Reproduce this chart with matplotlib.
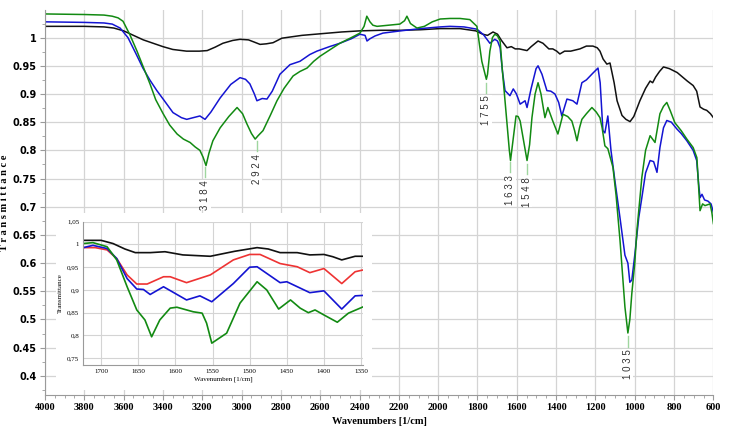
import matplotlib
matplotlib.use('Agg')
import matplotlib.pyplot as plt
from matplotlib.patches import Rectangle
from matplotlib.ticker import MultipleLocator
import numpy as np

# ---------------- data (main spectrum) ----------------
black_pts = [(4000, 1.02), (3800, 1.02), (3700, 1.019), (3650, 1.017), (3600, 1.012), (3550, 1.004),
             (3500, 0.996), (3450, 0.99), (3400, 0.984), (3350, 0.979), (3280, 0.976), (3215, 0.976),
             (3175, 0.977), (3135, 0.983), (3095, 0.99), (3045, 0.995), (3008, 0.997), (2965, 0.996),
             (2935, 0.992), (2906, 0.988), (2874, 0.989), (2840, 0.991), (2795, 0.999), (2693, 1.004),
             (2593, 1.007), (2492, 1.01), (2398, 1.012), (2291, 1.013), (2191, 1.013), (2090, 1.014),
             (1990, 1.016), (1889, 1.016), (1809, 1.012), (1773, 1.006), (1749, 1.004), (1721, 1.01),
             (1698, 1.006), (1678, 0.995), (1650, 0.982), (1628, 0.984), (1608, 0.98), (1588, 0.98),
             (1548, 0.977), (1527, 0.984), (1492, 0.994), (1467, 0.99), (1437, 0.98), (1417, 0.98),
             (1397, 0.976), (1381, 0.971), (1357, 0.976), (1326, 0.976), (1279, 0.98), (1246, 0.985),
             (1213, 0.985), (1191, 0.982), (1177, 0.976), (1161, 0.962), (1142, 0.953), (1126, 0.955),
             (1105, 0.92), (1090, 0.888), (1065, 0.862), (1045, 0.855), (1024, 0.851), (1005, 0.86),
             (985, 0.878), (974, 0.888), (945, 0.91), (922, 0.923), (909, 0.92), (894, 0.93),
             (874, 0.94), (854, 0.948), (824, 0.945), (784, 0.938), (733, 0.923), (703, 0.915),
             (685, 0.905), (668, 0.877), (650, 0.873), (634, 0.871), (615, 0.865), (600, 0.858)]

blue_pts = [(4000, 1.028), (3800, 1.027), (3700, 1.026), (3658, 1.024), (3618, 1.017), (3578, 1.0),
            (3538, 0.972), (3502, 0.946), (3467, 0.925), (3431, 0.906), (3397, 0.89), (3349, 0.867),
            (3306, 0.858), (3279, 0.855), (3246, 0.858), (3212, 0.861), (3186, 0.855), (3156, 0.868),
            (3109, 0.893), (3055, 0.917), (3008, 0.929), (2980, 0.926), (2958, 0.918), (2935, 0.9),
            (2922, 0.888), (2895, 0.892), (2871, 0.891), (2844, 0.905), (2805, 0.935), (2754, 0.952),
            (2703, 0.958), (2653, 0.97), (2617, 0.976), (2553, 0.984), (2500, 0.99), (2442, 0.998),
            (2398, 1.006), (2372, 1.004), (2362, 0.994), (2347, 0.998), (2321, 1.003), (2281, 1.008),
            (2191, 1.012), (2090, 1.016), (1990, 1.019), (1940, 1.02), (1869, 1.019), (1803, 1.015),
            (1769, 1.005), (1737, 0.99), (1712, 0.997), (1698, 0.994), (1685, 0.982), (1673, 0.94),
            (1660, 0.906), (1635, 0.897), (1618, 0.909), (1602, 0.9), (1583, 0.882), (1558, 0.888),
            (1548, 0.876), (1527, 0.91), (1502, 0.945), (1492, 0.95), (1472, 0.935), (1447, 0.906),
            (1427, 0.905), (1406, 0.9), (1387, 0.885), (1371, 0.861), (1345, 0.891), (1315, 0.888),
            (1294, 0.882), (1269, 0.92), (1246, 0.925), (1213, 0.937), (1187, 0.946), (1176, 0.92),
            (1162, 0.835), (1152, 0.831), (1137, 0.861), (1121, 0.8), (1101, 0.746), (1075, 0.68),
            (1050, 0.614), (1035, 0.6), (1025, 0.566), (1015, 0.57), (999, 0.617), (980, 0.68),
            (964, 0.716), (945, 0.76), (922, 0.782), (904, 0.78), (887, 0.761), (872, 0.805),
            (854, 0.84), (837, 0.853), (814, 0.85), (786, 0.838), (764, 0.83), (735, 0.817),
            (703, 0.8), (685, 0.782), (675, 0.74), (668, 0.716), (658, 0.722), (645, 0.712),
            (628, 0.71), (612, 0.705), (600, 0.69)]

green_pts = [(4000, 1.042), (3800, 1.041), (3700, 1.04), (3658, 1.038), (3628, 1.035), (3603, 1.029),
             (3568, 1.005), (3532, 0.976), (3497, 0.945), (3466, 0.918), (3437, 0.89), (3399, 0.865),
             (3366, 0.845), (3328, 0.829), (3296, 0.82), (3262, 0.814), (3236, 0.806), (3212, 0.8),
             (3196, 0.788), (3181, 0.773), (3166, 0.795), (3146, 0.817), (3109, 0.84), (3065, 0.86),
             (3023, 0.876), (2995, 0.865), (2973, 0.847), (2950, 0.83), (2931, 0.82), (2916, 0.826),
             (2891, 0.835), (2854, 0.862), (2820, 0.888), (2784, 0.91), (2738, 0.932), (2703, 0.94),
             (2667, 0.946), (2633, 0.958), (2601, 0.967), (2553, 0.978), (2500, 0.99), (2442, 1.0),
             (2398, 1.008), (2377, 1.02), (2363, 1.038), (2347, 1.028), (2332, 1.022), (2311, 1.02),
             (2251, 1.022), (2195, 1.024), (2171, 1.03), (2159, 1.038), (2141, 1.025), (2108, 1.017),
             (2070, 1.02), (2030, 1.028), (1990, 1.033), (1940, 1.034), (1889, 1.034), (1839, 1.032),
             (1803, 1.02), (1778, 0.958), (1755, 0.926), (1749, 0.935), (1737, 0.976), (1724, 1.0),
             (1712, 1.006), (1698, 1.003), (1685, 0.994), (1673, 0.94), (1660, 0.888), (1648, 0.84),
             (1638, 0.8), (1632, 0.782), (1615, 0.83), (1604, 0.861), (1593, 0.86), (1583, 0.852),
             (1567, 0.82), (1548, 0.782), (1535, 0.81), (1523, 0.858), (1507, 0.9), (1492, 0.92),
             (1477, 0.9), (1457, 0.858), (1442, 0.876), (1417, 0.852), (1391, 0.829), (1365, 0.864),
             (1341, 0.86), (1320, 0.852), (1306, 0.835), (1294, 0.817), (1281, 0.84), (1269, 0.855),
             (1246, 0.865), (1218, 0.876), (1196, 0.868), (1177, 0.858), (1166, 0.84), (1152, 0.808),
             (1137, 0.803), (1111, 0.77), (1095, 0.72), (1075, 0.64), (1050, 0.522), (1035, 0.476),
             (1025, 0.5), (1015, 0.546), (1000, 0.6), (989, 0.658), (975, 0.71), (964, 0.752),
             (945, 0.8), (922, 0.826), (897, 0.814), (872, 0.865), (854, 0.878), (837, 0.885),
             (819, 0.87), (796, 0.849), (764, 0.835), (735, 0.82), (703, 0.805), (684, 0.787),
             (676, 0.74), (668, 0.693), (655, 0.705), (643, 0.702), (617, 0.705), (608, 0.69),
             (600, 0.67)]

peak_labels = [3184, 2924, 1755, 1633, 1548, 1035]

main_xticks = list(range(4000, 599, -200))
main_yticks = [0.4, 0.45, 0.5, 0.55, 0.6, 0.65, 0.7, 0.75, 0.8, 0.85, 0.9, 0.95, 1.0]

# ---------------- data (inset) ----------------
inset_black = [(1724, 1.009), (1700, 1.009), (1684, 1.002), (1668, 0.99), (1654, 0.982), (1634, 0.982),
               (1614, 0.984), (1590, 0.977), (1553, 0.974), (1520, 0.985), (1490, 0.993), (1475, 0.99),
               (1459, 0.982), (1436, 0.982), (1419, 0.977), (1400, 0.978), (1388, 0.973), (1376, 0.966),
               (1358, 0.974), (1347, 0.974)]
inset_red = [(1724, 0.993), (1708, 0.993), (1692, 0.988), (1679, 0.969), (1665, 0.933), (1652, 0.913),
             (1638, 0.913), (1616, 0.929), (1607, 0.929), (1585, 0.916), (1553, 0.933), (1522, 0.966),
             (1500, 0.978), (1486, 0.978), (1459, 0.958), (1436, 0.951), (1419, 0.938), (1400, 0.947),
             (1376, 0.914), (1358, 0.94), (1347, 0.944)]
inset_blue = [(1724, 0.993), (1711, 0.998), (1692, 0.991), (1679, 0.969), (1665, 0.925), (1652, 0.902),
              (1643, 0.901), (1634, 0.89), (1616, 0.907), (1585, 0.878), (1567, 0.887), (1551, 0.874),
              (1522, 0.914), (1500, 0.95), (1490, 0.951), (1459, 0.916), (1450, 0.918), (1419, 0.894),
              (1400, 0.898), (1376, 0.858), (1358, 0.887), (1347, 0.888)]
inset_green = [(1724, 1.002), (1711, 1.004), (1692, 0.995), (1679, 0.966), (1665, 0.907), (1652, 0.856),
               (1641, 0.834), (1632, 0.797), (1621, 0.834), (1607, 0.86), (1598, 0.862), (1576, 0.852),
               (1564, 0.849), (1558, 0.827), (1551, 0.783), (1531, 0.805), (1513, 0.871), (1490, 0.918),
               (1477, 0.9), (1461, 0.858), (1445, 0.878), (1432, 0.86), (1421, 0.85), (1412, 0.856),
               (1400, 0.845), (1382, 0.829), (1367, 0.849), (1347, 0.863)]

inset_xticks = [1700, 1650, 1600, 1550, 1500, 1450, 1400, 1350]
inset_yticks = [0.75, 0.8, 0.85, 0.9, 0.95, 1.0, 1.05]
inset_ytick_labels = ['0,75', '0,8', '0,85', '0,9', '0,95', '1', '1,05']

C_BLACK = '#111111'
C_BLUE = '#1414d2'
C_GREEN = '#128a12'
C_RED = '#ee3333'
GRID = '#d4d4d4'

def unzip(pts):
    w, t = zip(*pts)
    return np.array(w, float), np.array(t, float)

fig = plt.figure(figsize=(7.31, 4.38), dpi=100)
ax = fig.add_axes([45 / 731, 1 - 395 / 438, (713.4 - 45) / 731, (395 - 10) / 438])

for pts, col in [(black_pts, C_BLACK), (blue_pts, C_BLUE), (green_pts, C_GREEN)]:
    w, t = unzip(pts)
    ax.plot(w, t, color=col, lw=1.1)

ax.set_xlim(4000, 600)
ax.set_ylim(0.366, 1.049)
ax.set_xticks(main_xticks)
ax.set_xticklabels([str(v) for v in main_xticks], family='Liberation Serif',
                   fontweight='bold', fontsize=7.5)
ax.set_yticks(main_yticks)
ax.set_yticklabels([f'{v:g}' for v in main_yticks], family='DejaVu Sans',
                   fontweight='bold', fontsize=7)
ax.xaxis.set_minor_locator(MultipleLocator(50))
ax.yaxis.set_minor_locator(MultipleLocator(0.025))
ax.grid(True, which='major', color=GRID, lw=0.9)
ax.set_axisbelow(True)
for s in ['top', 'right']:
    ax.spines[s].set_visible(False)
for s in ['left', 'bottom']:
    ax.spines[s].set_color('#9a9a9a')
ax.tick_params(which='major', length=3.5, color='#9a9a9a', pad=2.5)
ax.tick_params(which='minor', length=2, color='#9a9a9a')
ax.set_xlabel('Wavenumbers [1/cm]', family='Liberation Serif', fontweight='bold',
              fontsize=7.5, labelpad=3)
ax.set_ylabel('T r a n s m i t t a n c e', family='Liberation Serif', fontweight='bold',
              fontsize=7.5)
ax.yaxis.set_label_coords((9 - 45) / 668.4, 0.5)

# peak annotations
gw, gt = unzip(green_pts)
order = np.argsort(gw)
for p in peak_labels:
    tmin = np.interp(p, gw[order], gt[order])
    ax.plot([p, p], [tmin - 0.006, tmin - 0.024], color='#9fd69f', lw=1.0)
    ax.text(p, tmin - 0.029, ' '.join(str(p)), rotation=90, ha='center', va='top',
            fontsize=7, family='Liberation Sans', color='#333333',
            bbox=dict(facecolor='white', edgecolor='none', pad=0.3))

# white backdrop behind inset
ax.add_patch(Rectangle((56 / 731, 1 - 390 / 438), 316 / 731, 177 / 438,
                       transform=fig.transFigure, facecolor='white', edgecolor='none',
                       zorder=10, clip_on=False))

# ---------------- inset ----------------
ins = fig.add_axes([83.3 / 731, 1 - 365 / 438, (363.3 - 83.3) / 731, (365 - 221.7) / 438])
ins.set_zorder(20)
for pts, col in [(inset_black, C_BLACK), (inset_red, C_RED), (inset_blue, C_BLUE), (inset_green, C_GREEN)]:
    w, t = unzip(pts)
    ins.plot(w, t, color=col, lw=1.2)
ins.set_xlim(1724, 1347)
ins.set_ylim(0.735, 1.05)
ins.set_xticks(inset_xticks)
ins.set_xticklabels([str(v) for v in inset_xticks], family='Liberation Serif', fontsize=5)
ins.set_yticks(inset_yticks)
ins.set_yticklabels(inset_ytick_labels, family='Liberation Serif', fontsize=5)
ins.grid(True, color=GRID, lw=0.8)
ins.set_axisbelow(True)
for s in ['top', 'right']:
    ins.spines[s].set_visible(False)
for s in ['left', 'bottom']:
    ins.spines[s].set_color('#9a9a9a')
ins.tick_params(length=0, pad=3)
ins.set_xlabel('Wavenumben [1/cm]', family='Liberation Serif', fontsize=5, labelpad=2)
ins.set_ylabel('Transmittance', family='Liberation Serif', fontsize=5, labelpad=3)

fig.savefig('out.png', dpi=100)
